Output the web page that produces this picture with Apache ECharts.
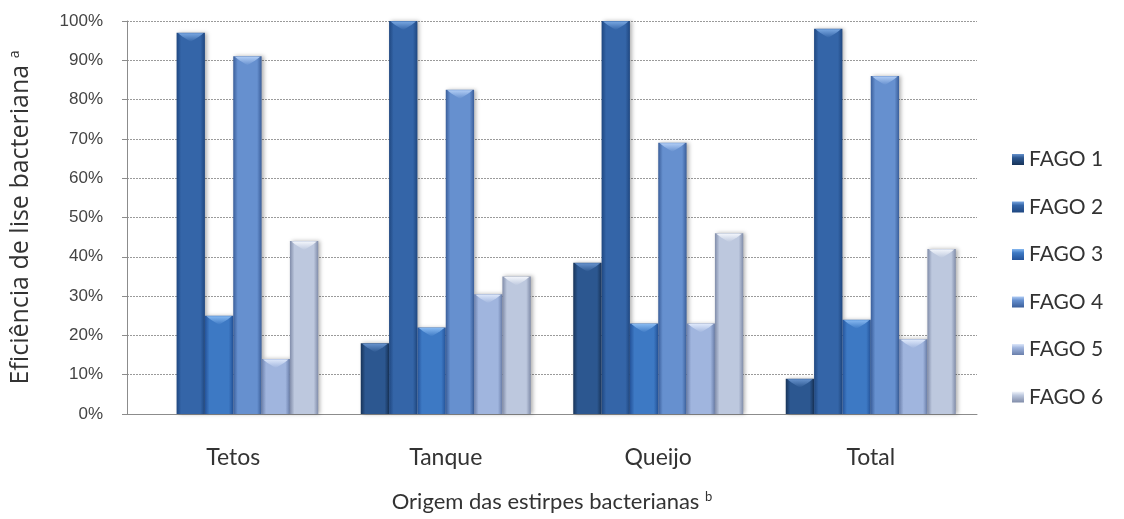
<!DOCTYPE html>
<html>
<head>
<meta charset="utf-8">
<script src="https://cdn.jsdelivr.net/npm/echarts@6/dist/echarts.min.js"></script>
<style>
  html, body { margin: 0; padding: 0; background: #ffffff; }
  #chart { width: 1124px; height: 519px; }
</style>
</head>
<body>
<div id="chart"></div>
<script>
// Origem das estirpes (eixo x)
const categories = ['Tetos', 'Tanque', 'Queijo', 'Total'];

// Eficiência de lise (%) de cada fago por origem
const fago1 = [0, 18, 38.5, 9];
const fago2 = [97, 100, 100, 98];
const fago3 = [25, 22, 23, 24];
const fago4 = [91, 82.5, 69, 86];
const fago5 = [14, 30.5, 23, 19];
const fago6 = [44, 35, 46, 42];

const seriesNames = ['FAGO 1', 'FAGO 2', 'FAGO 3', 'FAGO 4', 'FAGO 5', 'FAGO 6'];
const seriesData = [fago1, fago2, fago3, fago4, fago5, fago6];

// per phage: [edge, centre, bevel]
const palette = [
  ['#173358', '#2c5790', '#6792cc'],
  ['#1f4780', '#3465a8', '#78a6e0'],
  ['#24539a', '#3d79c4', '#86b8f0'],
  ['#3a5e9a', '#6690cf', '#b0ccf4'],
  ['#6a7fab', '#a0b5de', '#dde7fa'],
  ['#808ca9', '#bdc8de', '#f2f5fb']
];

const GROUP_SHARE = 0.8;   // 20% gap between categories
const N = seriesNames.length;

function sideGradient(c) {
  return new echarts.graphic.LinearGradient(0, 0, 1, 0, [
    { offset: 0, color: c[0] },
    { offset: 0.16, color: c[1] },
    { offset: 0.5, color: c[1] },
    { offset: 0.84, color: c[1] },
    { offset: 1, color: c[0] }
  ]);
}

function makeRender(si) {
  const c = palette[si];
  return function (params, api) {
    const cat = api.value(0);
    const val = api.value(1);
    if (!val) return null;
    const top = api.coord([cat, val]);
    const base = api.coord([cat, 0]);
    const band = api.size([1, 0])[0];
    const groupW = band * GROUP_SHARE;
    const w = groupW / N;
    const x = top[0] - groupW / 2 + si * w;
    const h = base[1] - top[1];
    const e = Math.min(4, h / 3);
    return {
      type: 'group',
      children: [
        {
          type: 'rect',
          shape: { x: x, y: top[1], width: w, height: h },
          style: { fill: sideGradient(c), shadowColor: 'rgba(0,0,0,0.3)', shadowBlur: 4, shadowOffsetX: 2 }
        },
        {
          type: 'polygon',
          shape: {
            points: [
              [x + 1.5, top[1] + 0.5],
              [x + w - 1.5, top[1] + 0.5],
              [x + w - e - 2, top[1] + e],
              [x + w / 2, top[1] + e + 5],
              [x + e + 2, top[1] + e]
            ]
          },
          style: {
            fill: new echarts.graphic.LinearGradient(0, 0, 0, 1, [
              { offset: 0, color: c[2] },
              { offset: 1, color: c[1] }
            ])
          }
        }
      ]
    };
  };
}

const chart = echarts.init(document.getElementById('chart'));

const series = seriesNames.map((name, i) => ({
  name: name,
  type: 'custom',
  renderItem: makeRender(i),
  encode: { x: 0, y: 1 },
  data: seriesData[i].map((v, k) => [k, v]),
  itemStyle: {
    color: new echarts.graphic.LinearGradient(0, 0, 0, 1, [
      { offset: 0, color: palette[i][2] },
      { offset: 0.35, color: palette[i][1] },
      { offset: 1, color: palette[i][0] }
    ])
  }
}));

chart.setOption({
  backgroundColor: '#ffffff',
  animation: false,
  grid: { left: 127, right: 147, top: 21, bottom: 105 },
  legend: {
    orient: 'vertical',
    left: 1007,
    top: 144,
    itemWidth: 12,
    itemHeight: 11,
    itemGap: 26.5,
    icon: 'rect',
    textStyle: { fontFamily: 'Lato', fontSize: 21, color: '#333333', padding: [0, 0, 0, 0] },
    data: seriesNames
  },
  xAxis: {
    type: 'category',
    data: categories,
    name: 'Origem das estirpes bacterianas {sup|b}',
    nameLocation: 'middle',
    nameGap: 76,
    nameTextStyle: {
      fontFamily: 'Lato', fontSize: 22, color: '#333333',
      rich: { sup: { fontFamily: 'Lato', fontSize: 13, color: '#333333', padding: [0, 0, 11, 0] } }
    },
    axisLine: { lineStyle: { color: '#8c8c8c', width: 1 } },
    axisTick: { show: false },
    axisLabel: { fontFamily: 'Lato', fontSize: 23, color: '#333333', margin: 32 }
  },
  yAxis: {
    type: 'value',
    min: 0,
    max: 100,
    interval: 10,
    name: 'Eficiência de lise bacteriana {sup|a}',
    nameLocation: 'middle',
    nameGap: 93,
    nameTextStyle: {
      fontFamily: 'Open Sans', fontSize: 25, color: '#333333',
      rich: { sup: { fontFamily: 'Open Sans', fontSize: 14, color: '#333333', padding: [0, 0, 12, 0] } }
    },
    axisLine: { show: true, lineStyle: { color: '#8c8c8c', width: 1 } },
    axisTick: { show: true, inside: false, length: 5, lineStyle: { color: '#8c8c8c' } },
    axisLabel: {
      fontFamily: 'Liberation Sans', fontSize: 17, color: '#444444', margin: 24,
      formatter: '{value}%'
    },
    splitLine: { lineStyle: { color: '#9a9a9a', type: [2, 1], width: 1 } }
  },
  series: series
});
</script>
</body>
</html>
